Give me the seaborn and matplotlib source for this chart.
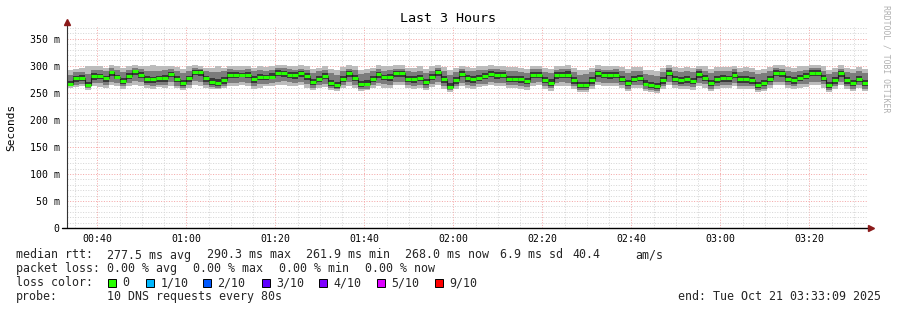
import numpy as np
import pandas as pd
import matplotlib
matplotlib.use("Agg")
import matplotlib.pyplot as plt
import seaborn as sns
from matplotlib.patches import Rectangle
from matplotlib.ticker import MultipleLocator, FixedLocator

# ---------------- data (ms) : one value per 80 s step ----------------
median = [
    267, 277, 277, 265, 281, 282, 277, 288, 280, 272, 282, 290, 284, 276, 275,
    277, 277, 285, 276, 268, 277, 289, 289, 277, 271, 269, 273, 284, 284, 284,
    284, 275, 280, 280, 280, 287.6, 287.6, 284, 283, 286, 281, 270, 276.5, 281, 268.5,
    265, 276, 286, 278, 266.6, 266.6, 276, 284.5, 279, 279, 286, 286, 276, 275, 278,
    270, 280, 288, 275, 261.7, 273, 285, 277.7, 275, 278, 280.7, 285.8, 282.7, 282.7, 276.5,
    276.5, 275, 271.5, 284, 284, 273.5, 269, 282.7, 284, 284, 273.5, 264, 264, 273.5, 286,
    282.7, 282.7, 284, 276.5, 268, 276.5, 278, 267.3, 265, 262, 273.5, 287.6, 276.5, 273.5, 275,
    271.5, 284.5, 278, 268, 275, 276.8, 276.8, 284, 275, 275, 273.5, 264.7, 268, 276.5, 287.6,
    286, 276.5, 273.5, 278, 281, 287.6, 287.6, 278, 264.7, 273.5, 286, 273.5, 268, 276.5, 268,
]
inner_lo = [
    263, 270, 272, 261, 274, 276, 270, 281, 275, 266, 276, 283, 278, 269, 268,
    271, 270, 279, 270, 263, 270, 283, 282, 271, 265, 263, 267, 278, 277, 279,
    278, 269, 273, 274, 275, 281, 280, 277, 276, 280, 274, 264, 270, 275, 263,
    260, 270, 280, 272, 261, 262, 270, 278, 273, 272, 280, 279, 270, 268, 272,
    264, 274, 282, 269, 257, 267, 279, 271, 269, 272, 275, 280, 276, 277, 270,
    271, 269, 266, 278, 278, 268, 263, 276, 278, 277, 267, 259, 259, 267, 280,
    277, 276, 278, 270, 262, 270, 272, 262, 260, 257, 267, 281, 270, 267, 269,
    266, 278, 272, 262, 269, 270, 271, 278, 269, 269, 267, 259, 262, 270, 281,
    280, 270, 267, 272, 275, 281, 281, 272, 259, 267, 280, 267, 262, 270, 262,
]
inner_hi = [
    272, 281, 283, 270, 286, 285, 281, 291, 284, 278, 286, 293, 288, 281, 279,
    282, 283, 289, 282, 274, 281, 293, 292, 282, 277, 275, 279, 288, 289, 287,
    289, 281, 285, 284, 286, 292, 291, 288, 288, 291, 286, 276, 282, 286, 274,
    271, 282, 291, 283, 272, 273, 281, 289, 284, 285, 290, 291, 281, 281, 283,
    276, 285, 292, 281, 268, 279, 290, 283, 281, 284, 286, 290, 288, 288, 282,
    282, 281, 277, 289, 289, 279, 275, 288, 289, 290, 279, 270, 270, 279, 291,
    288, 288, 289, 282, 274, 282, 284, 273, 271, 268, 279, 292, 282, 279, 281,
    277, 290, 284, 274, 281, 283, 282, 289, 281, 281, 279, 271, 274, 282, 292,
    291, 282, 279, 284, 286, 292, 292, 284, 271, 279, 291, 279, 274, 282, 274,
]
mid_lo = [
    262, 265, 266, 259, 268, 268, 264, 270, 268, 262, 268, 272, 270, 264, 263,
    265, 264, 270, 263, 260, 265, 272, 271, 264, 261, 260, 262, 268, 269, 270,
    269, 263, 266, 267, 268, 271, 272, 270, 268, 271, 266, 260, 264, 267, 260,
    257, 264, 270, 265, 258, 258, 264, 269, 266, 265, 270, 270, 264, 263, 265,
    260, 267, 271, 263, 255, 262, 269, 265, 263, 266, 267, 270, 268, 269, 264,
    264, 263, 261, 269, 270, 262, 259, 268, 270, 269, 262, 256, 256, 262, 270,
    268, 268, 269, 264, 258, 264, 265, 258, 256, 254, 262, 271, 264, 262, 263,
    261, 269, 266, 258, 263, 264, 265, 269, 263, 263, 262, 256, 258, 264, 271,
    270, 264, 262, 266, 267, 271, 271, 266, 256, 262, 270, 262, 258, 264, 258,
]
mid_hi = [
    284, 288, 289, 285, 292, 292, 290, 296, 292, 289, 293, 297, 294, 290, 291,
    290, 292, 294, 290, 287, 291, 296, 295, 290, 288, 289, 290, 294, 293, 293,
    294, 290, 292, 291, 292, 297, 296, 294, 293, 295, 292, 287, 290, 292, 286,
    284, 290, 295, 292, 285, 286, 290, 294, 291, 292, 295, 295, 290, 289, 291,
    287, 291, 296, 290, 283, 289, 294, 291, 290, 292, 292, 295, 294, 293, 290,
    290, 289, 287, 294, 294, 289, 286, 293, 294, 294, 289, 284, 285, 289, 295,
    293, 293, 294, 290, 286, 290, 291, 285, 284, 282, 289, 296, 290, 289, 290,
    288, 294, 291, 286, 290, 290, 290, 294, 289, 290, 289, 285, 286, 290, 296,
    295, 290, 289, 291, 292, 296, 296, 291, 285, 289, 295, 289, 286, 290, 286,
]
outer_lo = [
    259, 261, 262, 256, 263, 261, 260, 264, 262, 257, 262, 265, 263, 259, 258,
    261, 259, 263, 259, 256, 260, 264, 263, 259, 258, 257, 259, 262, 263, 264,
    263, 258, 260, 262, 262, 264, 265, 263, 262, 264, 260, 256, 259, 261, 255,
    253, 259, 263, 260, 254, 255, 259, 263, 260, 260, 264, 264, 259, 258, 260,
    256, 261, 264, 258, 252, 257, 263, 260, 258, 261, 262, 264, 262, 263, 259,
    259, 258, 256, 263, 264, 257, 254, 262, 263, 263, 257, 252, 252, 257, 264,
    262, 262, 263, 259, 254, 259, 260, 253, 252, 250, 257, 264, 259, 257, 258,
    256, 263, 260, 254, 258, 259, 260, 263, 258, 258, 257, 252, 254, 259, 264,
    264, 259, 257, 260, 261, 264, 265, 260, 252, 257, 264, 257, 254, 259, 254,
]
outer_hi = [
    293, 294, 296, 299, 299, 299, 296, 302, 299, 296, 299, 301, 299, 299, 302,
    299, 299, 300, 298, 295, 300, 301, 300, 296, 297, 299, 296, 300, 300, 300,
    300, 296, 299, 298, 300, 302, 302, 299, 300, 301, 299, 294, 297, 300, 294,
    293, 298, 301, 299, 293, 294, 297, 301, 299, 299, 302, 301, 297, 297, 299,
    295, 299, 302, 298, 292, 296, 300, 298, 297, 299, 300, 301, 300, 300, 298,
    298, 297, 295, 300, 300, 297, 295, 299, 300, 301, 296, 292, 293, 297, 301,
    299, 300, 300, 298, 294, 298, 298, 293, 293, 291, 297, 302, 298, 297, 298,
    296, 300, 299, 294, 298, 298, 298, 300, 297, 298, 297, 293, 294, 298, 302,
    301, 298, 297, 299, 300, 302, 302, 299, 293, 297, 301, 297, 294, 298, 294,
]

x_tick_minutes = [40, 60, 80, 100, 120, 140, 160, 180, 200]
x_tick_labels = ["00:40", "01:00", "01:20", "01:40", "02:00", "02:20", "02:40", "03:00", "03:20"]
y_ticks = [0, 50, 100, 150, 200, 250, 300, 350]
y_tick_labels = ["0", "50 m", "100 m", "150 m", "200 m", "250 m", "300 m", "350 m"]

loss_labels = ["0", "1/10", "2/10", "3/10", "4/10", "5/10", "9/10"]
loss_colors = ["#26ff00", "#00b8ff", "#0059ff", "#5e00ff", "#7e00ff", "#dd00ff", "#ff0000"]

rtt_stats = ["277.5 ms avg", "290.3 ms max", "261.9 ms min", "268.0 ms now", "6.9 ms sd", "40.4", "am/s"]
loss_stats = ["0.00 % avg", "0.00 % max", "0.00 % min", "0.00 % now"]
probe_text = "10 DNS requests every 80s"
end_text = "end: Tue Oct 21 03:33:09 2025"
title = "Last 3 Hours"

step_seconds = 80
start_minute = 33 + 9 / 60.0          # 00:33:09
span_minutes = 180

# ---------------- figure ----------------
sns.set_theme(style="white")
plt.rcParams["font.family"] = ["DejaVu Sans Mono", "DejaVu Sans"]
plt.rcParams["axes.unicode_minus"] = False

W, H = 897, 310
fig = plt.figure(figsize=(W / 100, H / 100), dpi=100)
fig.patch.set_facecolor("white")

left_px, right_px, top_px, bottom_px = 67, 868, 27, 228
ax = fig.add_axes([left_px / W, 1 - bottom_px / H, (right_px - left_px) / W, (bottom_px - top_px) / H])
ax.set_facecolor("white")

n = len(median)
edges = start_minute + np.arange(n + 1) * step_seconds / 60.0

def ext(a):
    a = list(a)
    return np.array(a + [a[-1]], dtype=float)

for lo, hi, col in [(outer_lo, outer_hi, "#bcbcbc"),
                    (mid_lo, mid_hi, "#7c7c7c"),
                    (inner_lo, inner_hi, "#383838")]:
    ax.fill_between(edges, ext(lo), ext(hi), step="post", color=col, lw=0, zorder=2)

df = pd.DataFrame({"t": edges, "rtt": ext(median)})
sns.lineplot(data=df, x="t", y="rtt", drawstyle="steps-post", color="#202020",
             lw=0.8, ax=ax, zorder=3, legend=False)
ax.hlines(median, edges[:-1], edges[1:], colors="#26ff00", lw=2.2, zorder=4)

ax.set_xlim(start_minute, start_minute + span_minutes)
ax.set_ylim(0, 372)

ax.xaxis.set_major_locator(FixedLocator(x_tick_minutes))
ax.set_xticklabels(x_tick_labels)
ax.xaxis.set_minor_locator(MultipleLocator(5))
ax.yaxis.set_major_locator(FixedLocator(y_ticks))
ax.set_yticklabels(y_tick_labels)
ax.yaxis.set_minor_locator(MultipleLocator(10))

ax.set_axisbelow(True)
ax.grid(which="minor", color="#d6d6d6", ls=(0, (1, 1.6)), lw=0.72, zorder=0)
ax.grid(which="major", color="#f4a8a8", ls=(0, (1, 1.6)), lw=0.72, zorder=0)

ax.tick_params(axis="both", which="both", length=0, labelsize=7.1, colors="#000000")
ax.tick_params(axis="y", pad=5.2)
ax.tick_params(axis="x", pad=4)
ax.tick_params(axis="x", which="minor", length=2, color="#999999", direction="out")
ax.set_xlabel("")
ax.set_ylabel("")

for s in ax.spines.values():
    s.set_visible(False)

# axes with arrows (rrdtool style)
ax.plot([0, 0], [0, 1 + 4 / 201], transform=ax.transAxes, color="#333333", lw=0.8, clip_on=False, zorder=6)
ax.plot([-5 / 801, 1 + 3 / 801], [0, 0], transform=ax.transAxes, color="#000000", lw=1.0, clip_on=False, zorder=6)
ax.plot([0], [1 + 5 / 201], marker="^", ms=4, color="#8b1a1a", transform=ax.transAxes, clip_on=False, zorder=7)
ax.plot([1 + 3 / 801], [0], marker=">", ms=4, color="#8b1a1a", transform=ax.transAxes, clip_on=False, zorder=7)

def fx(x):
    return x / W

def fy(y):
    return 1 - y / H

fig.text(fx(448), fy(19), title, ha="center", va="center", fontsize=9.6, color="#000000")
fig.text(fx(11), fy(127), "Seconds", rotation=90, ha="center", va="center", fontsize=8, color="#000000")
fig.text(fx(886), fy(5), "RRDTOOL / TOBI OETIKER", rotation=270, ha="center", va="top",
         fontsize=5.9, color="#b0b0b0")

FS = 8.4
row_y = [255, 268.5, 282.5, 296.5]
fig.text(fx(16), fy(row_y[0]), "median rtt:", ha="left", va="center", fontsize=FS)
for s, x in zip(rtt_stats, [107, 207, 306, 405, 500, 572, 635]):
    fig.text(fx(x), fy(row_y[0]), s, ha="left", va="center", fontsize=FS)

fig.text(fx(16), fy(row_y[1]), "packet loss:", ha="left", va="center", fontsize=FS)
for s, x in zip(loss_stats, [107, 193, 279, 365]):
    fig.text(fx(x), fy(row_y[1]), s, ha="left", va="center", fontsize=FS)

fig.text(fx(16), fy(row_y[2]), "loss color:", ha="left", va="center", fontsize=FS)
box_x = [108, 146, 203, 262, 319, 377, 435]
for lab, col, bx in zip(loss_labels, loss_colors, box_x):
    fig.add_artist(Rectangle((fx(bx), fy(row_y[2] + 4)), 7.5 / W, 7.5 / H,
                             transform=fig.transFigure, facecolor=col,
                             edgecolor="#000000", lw=0.7))
    fig.text(fx(bx + 14.5), fy(row_y[2]), lab, ha="left", va="center", fontsize=FS)

fig.text(fx(16), fy(row_y[3]), "probe:", ha="left", va="center", fontsize=FS)
fig.text(fx(107), fy(row_y[3]), probe_text, ha="left", va="center", fontsize=FS)
fig.text(fx(678), fy(row_y[3]), end_text, ha="left", va="center", fontsize=FS)

fig.savefig("out.png", dpi=100, facecolor="white")
